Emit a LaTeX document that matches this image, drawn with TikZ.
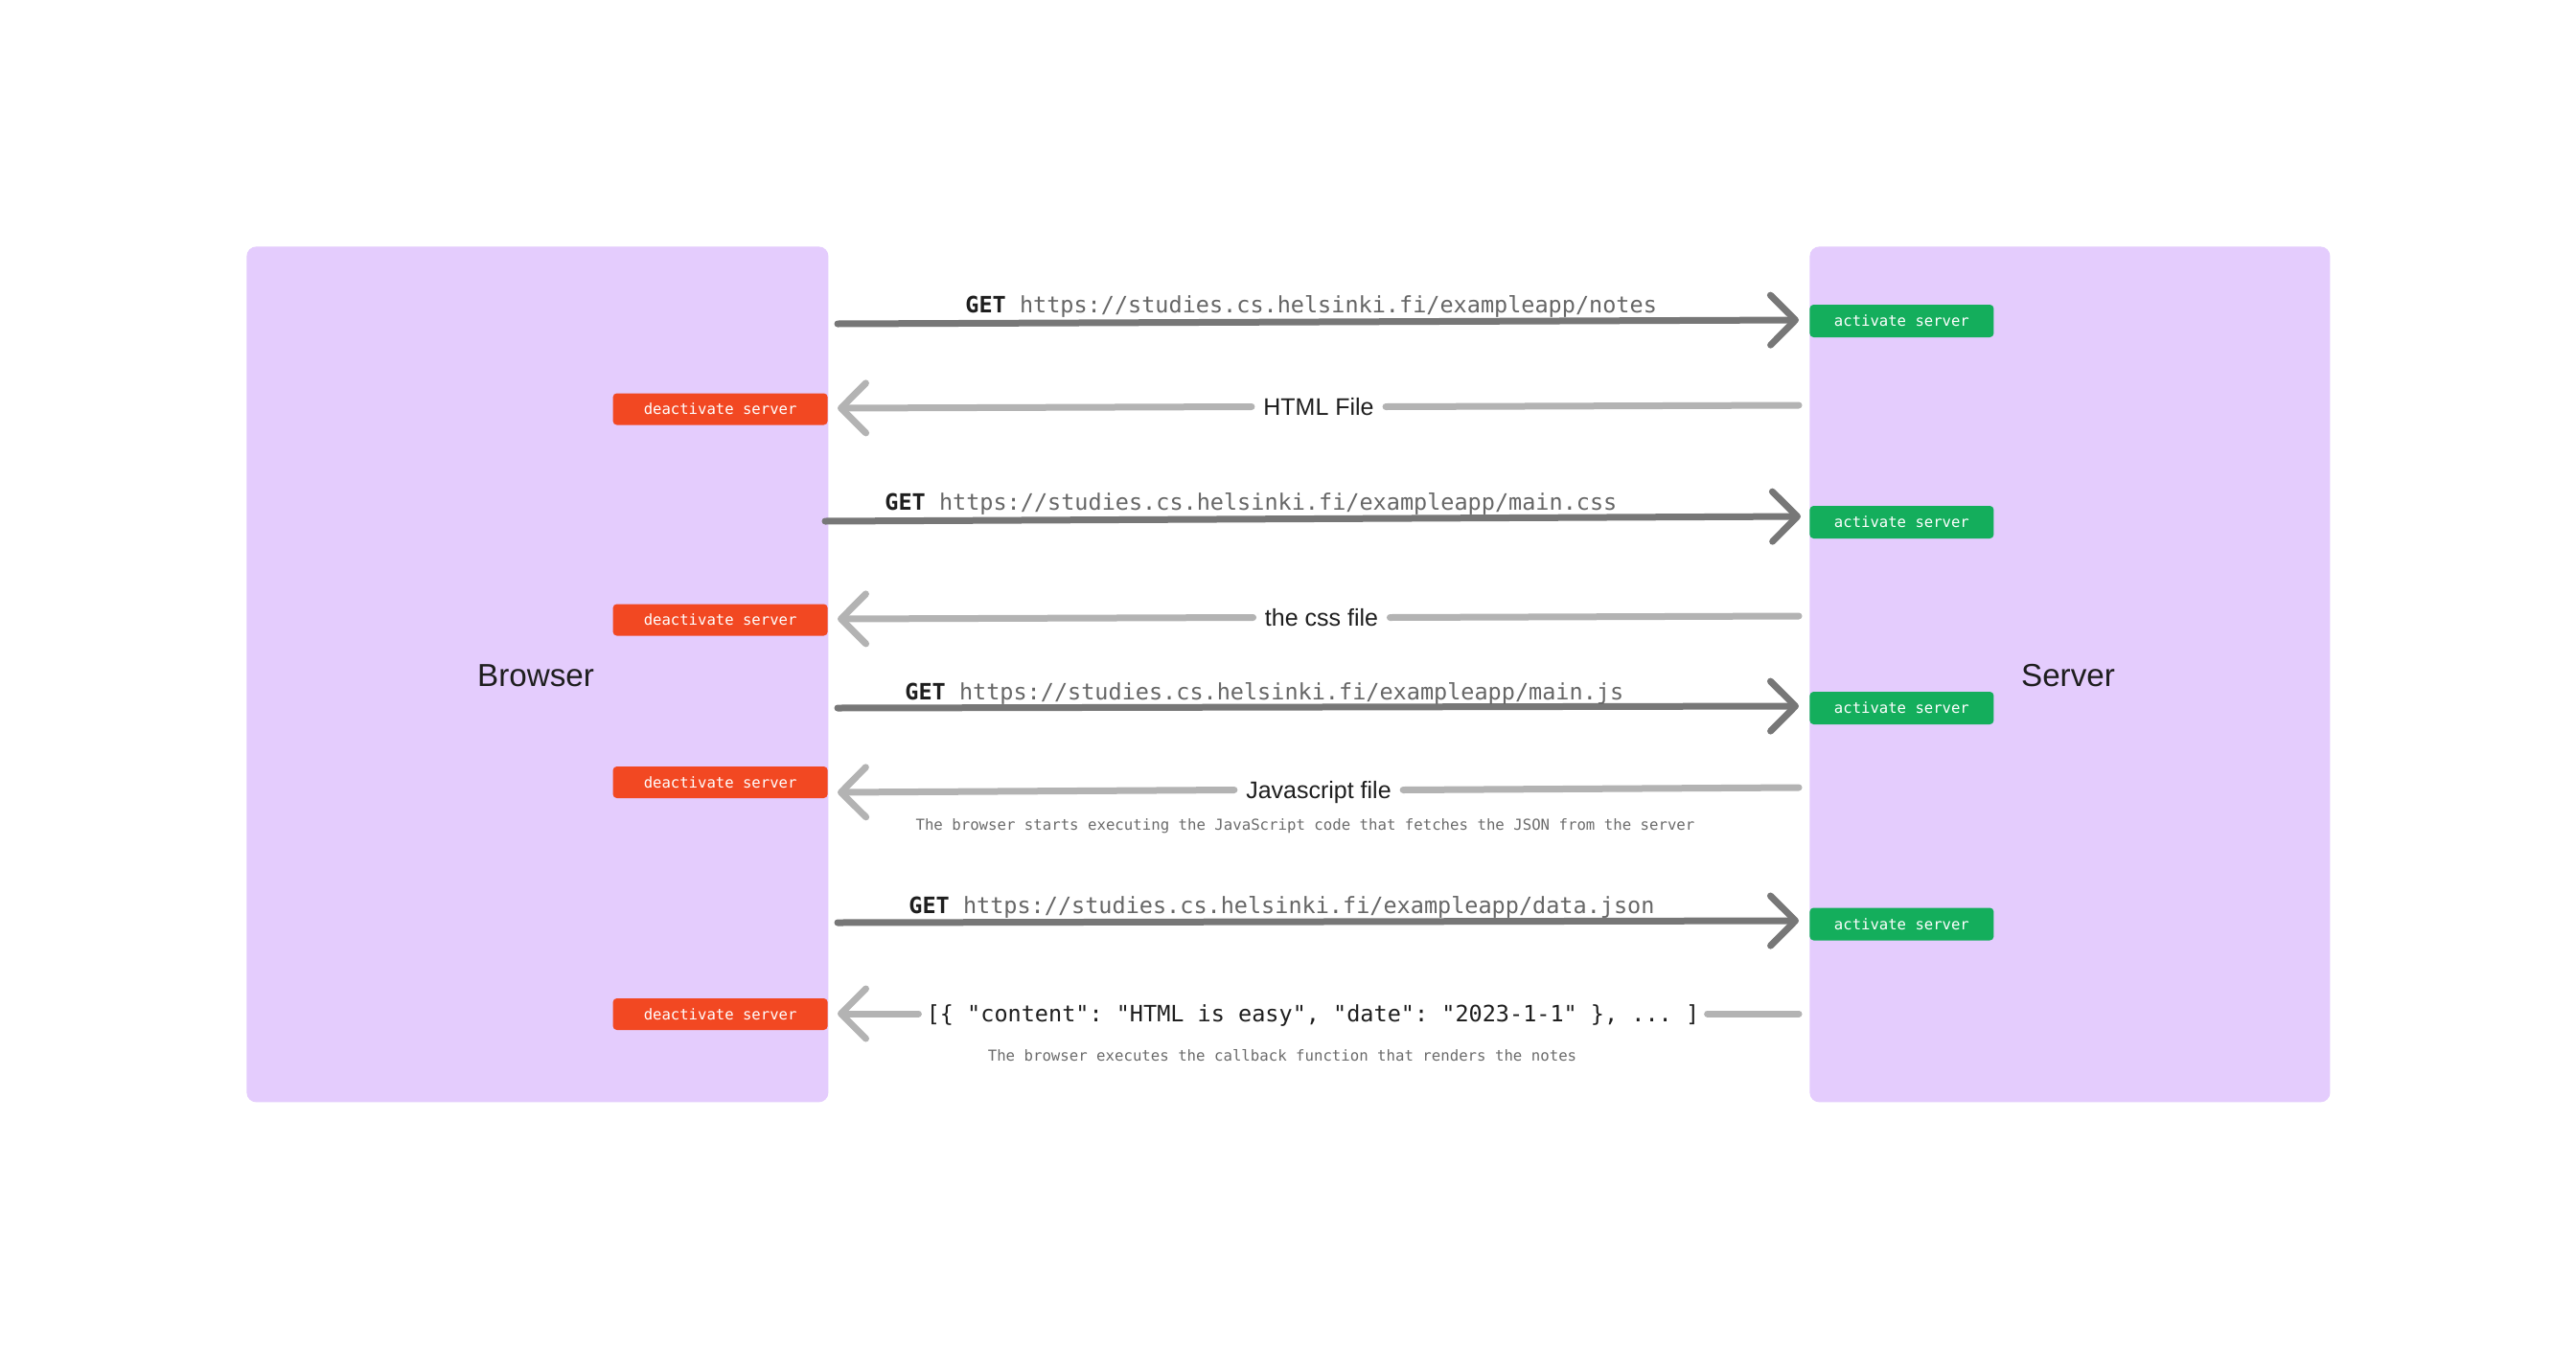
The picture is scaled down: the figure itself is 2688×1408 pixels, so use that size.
\documentclass[tikz,border=0pt]{standalone}
\usepackage{fontspec}
\setmainfont{Liberation Sans}
\setmonofont{DejaVu Sans Mono}
\usetikzlibrary{arrows.meta}
\definecolor{panel}{HTML}{E4CCFD}
\definecolor{redbox}{HTML}{F24822}
\definecolor{greenbox}{HTML}{14AE5C}
\definecolor{reqgray}{HTML}{777777}
\definecolor{resgray}{HTML}{B3B3B3}
\definecolor{urlgray}{HTML}{666666}
\definecolor{notegray}{HTML}{6B6B6B}
\definecolor{ink}{HTML}{1E1E1E}
\begin{document}
\begin{tikzpicture}[x=0.5pt,y=-0.5pt,
  panelbox/.style={fill=panel, rounded corners=5pt, inner sep=0pt, anchor=north west,
    font=\fontsize{16.6}{20}\selectfont, text=ink},
  actbox/.style={fill=greenbox, rounded corners=2pt, inner sep=0pt, anchor=west,
    minimum width=96pt, minimum height=17pt, text=white, font=\ttfamily\fontsize{7.8}{9}\selectfont},
  deactbox/.style={fill=redbox, rounded corners=2pt, inner sep=0pt, anchor=east,
    minimum width=112pt, minimum height=16.5pt, text=white, font=\ttfamily\fontsize{7.8}{9}\selectfont},
  req/.style={draw=reqgray, line width=3.5pt, line cap=round,
    -{Straight Barb[length=13pt,width=26pt,round]}},
  res/.style={draw=resgray, line width=3.5pt, line cap=round},
  restip/.style={res, -{Straight Barb[length=13pt,width=26pt,round]}},
  reqlabel/.style={anchor=base west, inner sep=0pt, text=ink, font=\ttfamily\fontsize{11.75}{14}\selectfont},
  reslabel/.style={anchor=center, inner xsep=6pt, inner ysep=0pt, text height=8.9pt, text depth=0pt,
    text=ink, font=\fontsize{12.5}{15}\selectfont},
  jsonlabel/.style={anchor=center, inner xsep=4pt, inner ysep=0pt, text height=8.6pt, text depth=0pt,
    text=ink, font=\ttfamily\fontsize{11.75}{14}\selectfont},
  note/.style={anchor=center, inner sep=0pt, text=notegray, font=\ttfamily\fontsize{7.85}{9}\selectfont}
]
\useasboundingbox (0,0) rectangle (2688,1408);
\fill[white] (0,0) rectangle (2688,1408);

% panels
\node[panelbox, minimum width=303.5pt, minimum height=446.5pt] (browser) at (257,257) {};
\node[panelbox, minimum width=271.5pt, minimum height=446.5pt] (server) at (1888,257) {};
\node[font=\fontsize{16.6}{20}\selectfont, text=ink] (browserlbl) at (559,705) {Browser};
\node[font=\fontsize{16.6}{20}\selectfont, text=ink] (serverlbl) at (2158,705) {Server};

% activate / deactivate boxes
\node[actbox] (act1) at (1888,335) {activate server};
\node[actbox] (act2) at (1888,545) {activate server};
\node[actbox] (act3) at (1888,739) {activate server};
\node[actbox] (act4) at (1888,964.5) {activate server};
\node[deactbox] (deact1) at (864,427) {deactivate server};
\node[deactbox] (deact2) at (864,647) {deactivate server};
\node[deactbox] (deact3) at (864,816.5) {deactivate server};
\node[deactbox] (deact4) at (864,1058.5) {deactivate server};

% arrow end coordinates
\coordinate (q1s) at (874,338);  \coordinate (q1e) at (1877,334);
\coordinate (p1s) at (1877,423); \coordinate (p1e) at (874,426);
\coordinate (q2s) at (861,544);  \coordinate (q2e) at (1879,539);
\coordinate (p2s) at (1877,643); \coordinate (p2e) at (874,646);
\coordinate (q3s) at (874,739);  \coordinate (q3e) at (1877,737);
\coordinate (p3s) at (1877,822); \coordinate (p3e) at (874,827);
\coordinate (q4s) at (874,963);  \coordinate (q4e) at (1877,961);
\coordinate (p4s) at (1877,1058); \coordinate (p4e) at (874,1058);

% request 1
\draw[req] (q1s) -- (q1e);
\node[reqlabel] (get1) at (1007,326) {\textbf{GET} \textcolor{urlgray}{https://studies.cs.helsinki.fi/exampleapp/notes}};
% response 1
\node[reslabel] (html) at (1376,424.5) {HTML File};
\draw[res] (p1s) -- (html.east);
\draw[restip] (html.west) -- (p1e);

% request 2
\draw[req] (q2s) -- (q2e);
\node[reqlabel] (get2) at (923,532) {\textbf{GET} \textcolor{urlgray}{https://studies.cs.helsinki.fi/exampleapp/main.css}};
% response 2
\node[reslabel] (css) at (1379,644.5) {the css file};
\draw[res] (p2s) -- (css.east);
\draw[restip] (css.west) -- (p2e);

% request 3
\draw[req] (q3s) -- (q3e);
\node[reqlabel] (get3) at (944,730) {\textbf{GET} \textcolor{urlgray}{https://studies.cs.helsinki.fi/exampleapp/main.js}};
% response 3
\node[reslabel] (js) at (1376,824.5) {Javascript file};
\draw[res] (p3s) -- (js.east);
\draw[restip] (js.west) -- (p3e);
\node[note] (note1) at (1362,862) {The browser starts executing the JavaScript code that fetches the JSON from the server};

% request 4
\draw[req] (q4s) -- (q4e);
\node[reqlabel] (get4) at (948,953) {\textbf{GET} \textcolor{urlgray}{https://studies.cs.helsinki.fi/exampleapp/data.json}};
% response 4
\node[jsonlabel] (json) at (1370,1058) {[\{ "content": "HTML is easy", "date": "2023-1-1" \}, ... ]};
\draw[res] (p4s) -- (json.east);
\draw[restip] (json.west) -- (p4e);
\node[note] (note2) at (1338,1102) {The browser executes the callback function that renders the notes};
\end{tikzpicture}
\end{document}
